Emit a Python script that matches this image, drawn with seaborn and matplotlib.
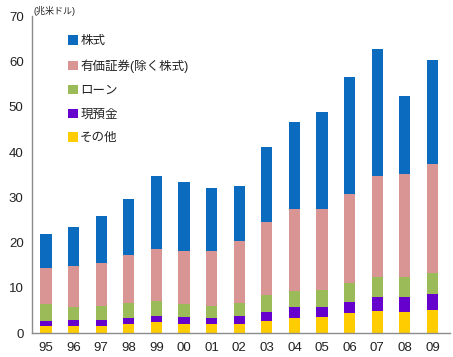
import numpy as np
import pandas as pd
import matplotlib
matplotlib.use("Agg")
import matplotlib.pyplot as plt
import seaborn as sns
from matplotlib.patches import Patch

years = ["95", "96", "97", "98", "99", "00", "01", "02", "03", "04", "05", "06", "07", "08", "09"]
other = [1.5, 1.7, 1.7, 2.0, 2.4, 2.1, 2.1, 2.1, 2.7, 3.4, 3.7, 4.4, 4.9, 4.6, 5.1]
cash = [1.3, 1.2, 1.2, 1.4, 1.5, 1.6, 1.3, 1.8, 2.1, 2.3, 2.2, 2.4, 3.2, 3.3, 3.6]
loans = [3.6, 3.0, 3.1, 3.2, 3.3, 2.8, 2.6, 2.7, 3.7, 3.7, 3.7, 4.2, 4.4, 4.6, 4.6]
securities = [8.0, 9.0, 9.5, 10.7, 11.4, 11.7, 12.2, 13.8, 16.0, 18.1, 17.9, 19.8, 22.3, 22.6, 24.1]
stocks = [7.6, 8.6, 10.4, 12.4, 16.0, 15.2, 13.9, 12.2, 16.7, 19.2, 21.4, 25.8, 28.0, 17.3, 22.8]

labels = ["株式", "有価証券(除く株式)", "ローン", "現預金", "その他"]
colors = ["#0B6BBF", "#D99594", "#9BBB59", "#6600CC", "#FFCC00"]

sns.set_theme(style="white")
plt.rcParams['font.family'] = ['Liberation Sans', 'Noto Sans CJK JP', 'DejaVu Sans']

df = pd.DataFrame({"year": years, "その他": other, "現預金": cash, "ローン": loans,
                   "有価証券(除く株式)": securities, "株式": stocks})
order_bottom_up = ["その他", "現預金", "ローン", "有価証券(除く株式)", "株式"]
cum = df[order_bottom_up].cumsum(axis=1)

fig = plt.figure(figsize=(4.53, 3.57), dpi=100)
ax = fig.add_axes([0.0706, 0.0664, 0.9224, 0.8886])

# draw from top (cumulative total) down
for name in reversed(order_bottom_up):
    col = colors[labels.index(name)]
    sns.barplot(x=df["year"], y=cum[name], color=col, width=0.41, ax=ax,
                saturation=1, edgecolor="none", linewidth=0)

ax.set_ylim(0, 70)
ax.set_xlim(-0.507, 14.63)
ax.set_yticks(range(0, 71, 10))
ax.set_xlabel("")
ax.set_ylabel("")
ax.tick_params(axis='both', length=0, labelsize=9.5, colors="#222222", pad=6)
ax.tick_params(axis='y', pad=6)
for s in ["top", "right"]:
    ax.spines[s].set_visible(False)
for s in ["left", "bottom"]:
    ax.spines[s].set_color("#8c8c8c")
    ax.spines[s].set_linewidth(1.0)

fig.text(0.075, 0.968, "(兆米ドル)", fontsize=6.5, color="#222222", va="center", ha="left")

handles = [Patch(facecolor=c, edgecolor="none") for c in colors]
leg = ax.legend(handles, labels, loc="upper left", bbox_to_anchor=(0.075, 0.955),
                frameon=False, fontsize=9, handlelength=0.75, handleheight=0.75,
                handletextpad=0.2, labelspacing=0.95, borderaxespad=0)
for t in leg.get_texts():
    t.set_color("#222222")

fig.savefig("out.png", dpi=100)
